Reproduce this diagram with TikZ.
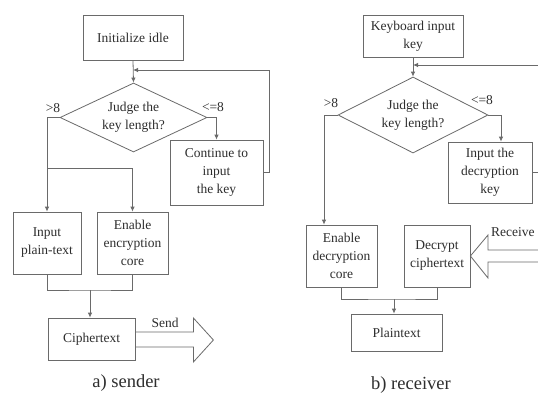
\documentclass[tikz,border=0pt]{standalone}
\usepackage{fontspec}
\setmainfont{Liberation Serif}
\usetikzlibrary{shapes.geometric,arrows.meta}
\definecolor{linec}{HTML}{6A6A6A}
\definecolor{txtc}{HTML}{2E2E2E}
\begin{document}
\begin{tikzpicture}[x=1pt,y=-1pt,
  txt/.style={text=txtc, font=\fontsize{13.5}{18}\selectfont},
  box/.style={txt, draw=linec, line width=0.8pt, align=center, inner sep=1pt},
  dia/.style={txt, draw=linec, line width=0.8pt, shape=diamond, aspect=2.1, inner sep=0pt, align=center},
  conn/.style={draw=linec, line width=0.8pt},
  arr/.style={conn, -{Latex[length=5pt,width=4.5pt]}},
  lbl/.style={txt, inner sep=0pt},
  captxt/.style={text=txtc, font=\fontsize{18.5}{20}\selectfont, inner sep=0pt}
]
\useasboundingbox (0,0) rectangle (538,394);
\clip (0,0) rectangle (538,394);
\fill[white] (0,0) rectangle (538,394);

% ---------------- a) sender ----------------
\node[box, minimum width=100pt, minimum height=45pt] (init) at (133,37.5) {Initialize idle};
\node[dia, minimum width=147pt, minimum height=69pt] (dS) at (133.5,117.5) {Judge the\\key length?};
\node[box, minimum width=93pt, minimum height=65pt] (cont) at (216.5,172.5) {Continue to\\input\\the key};
\node[box, minimum width=68pt, minimum height=62pt] (plain) at (47,243) {Input\\plain-text};
\node[box, minimum width=71pt, minimum height=62pt] (enc) at (132.5,243) {Enable\\encryption\\core};
\node[box, minimum width=87pt, minimum height=42pt] (cipher) at (91.5,339) {Ciphertext};

\node[lbl] (gtS) at (53,108) {>8};
\node[lbl] (leS) at (213,107) {<=8};
\node[lbl] (send) at (165,323) {Send};
\node[captxt] (capA) at (126,383) {a) sender};

\coordinate (fbS) at (133,70);
\coordinate (brS) at (47,168);
\coordinate (jS) at (90,290);

\draw[arr] (init.south) -- (dS.north);
\draw[arr] (cont.east) -- ++(6,0) |- (fbS);
\draw[arr] (dS.east) -| (cont.north);
\draw[arr] (dS.west) -| (plain.north);
\draw[arr] (brS) -| (enc.north);
\draw[conn] (plain.south) |- (jS) -| (enc.south);
\draw[arr] (jS) -- (jS |- cipher.north);
\draw[conn] (cipher.east) ++(0,-7) -- ++(58,0) -- ++(0,-14) -- ++(20,22) -- ++(-20,22) -- ++(0,-15) -- ++(-58,0);

% ---------------- b) receiver ----------------
\node[box, minimum width=100pt, minimum height=42pt] (kbd) at (413,36) {Keyboard input\\key};
\node[dia, minimum width=150pt, minimum height=76pt] (dR) at (413,115) {Judge the\\key length?};
\node[box, minimum width=84pt, minimum height=61pt] (key) at (490,172.5) {Input the\\decryption\\key};
\node[box, minimum width=71pt, minimum height=62pt] (en2) at (341.5,256) {Enable\\decryption\\core};
\node[box, minimum width=66pt, minimum height=62pt] (dec) at (437,256) {Decrypt\\ciphertext};
\node[box, minimum width=91pt, minimum height=37pt] (plain2) at (396.5,332.5) {Plaintext};

\node[lbl] (gtR) at (331,103) {>8};
\node[lbl] (leR) at (482,100) {<=8};
\node[lbl, anchor=west] (recv) at (491,232) {Receive};
\node[captxt] (capB) at (411,385) {b) receiver};

\coordinate (fbR) at (413,65);
\coordinate (tR) at (501,115);
\coordinate (lR) at (324,115);
\coordinate (jR) at (394,299);

\draw[arr] (kbd.south) -- (dR.north);
\draw[arr] (key.east) -- ++(16,0) |- (fbR);
\draw[arr] (dR.east) -- (tR) -- (tR |- key.north);
\draw[arr] (dR.west) -- (lR) -- (lR |- en2.north);
\draw[conn] (en2.south) |- (jR) -| (dec.south);
\draw[arr] (jR) -- (jR |- plain2.north);
\draw[conn] (550,250) -- (488,250) -- (488,235) -- (dec.east) -- (488,278) -- (488,262) -- (550,262);
\end{tikzpicture}
\end{document}
